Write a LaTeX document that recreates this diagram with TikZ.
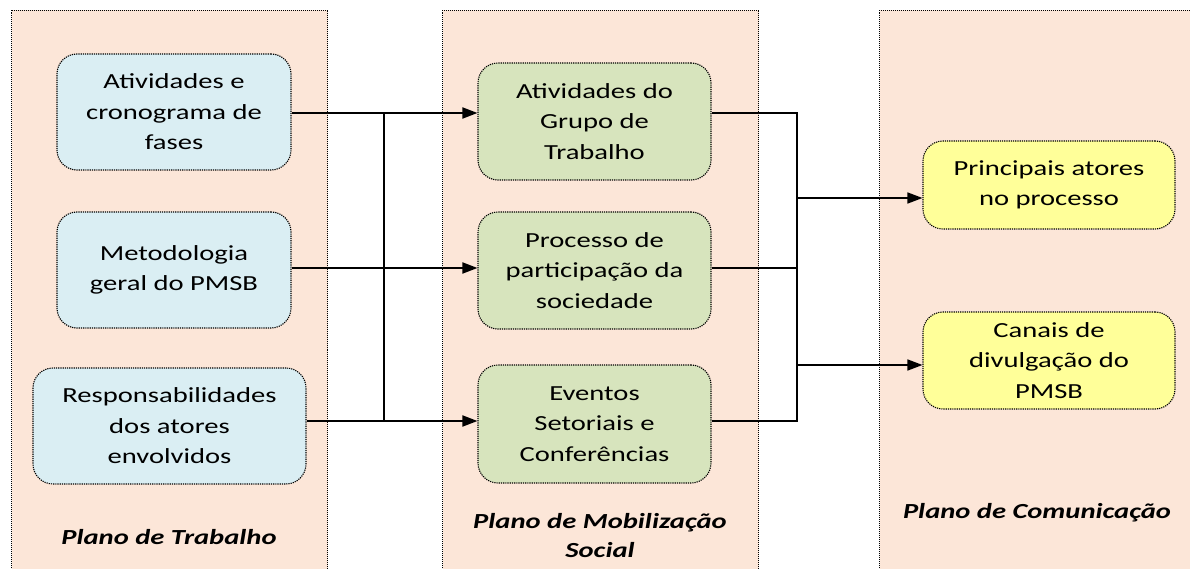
\documentclass[tikz,border=0pt]{standalone}
\usepackage{fontspec}
\setmainfont{Carlito}[FakeStretch=1.33]
\usetikzlibrary{arrows.meta,calc}
\definecolor{panelfill}{HTML}{FCE6D8}
\definecolor{bluefill}{HTML}{DAEEF3}
\definecolor{greenfill}{HTML}{D7E4BD}
\definecolor{yellowfill}{HTML}{FFFF99}
\tikzset{
  panel/.style={draw=black, fill=panelfill, line width=1pt, dash pattern=on 1pt off 1pt, inner sep=0pt},
  box/.style={draw=black, line width=1.1pt, dash pattern=on 1.2pt off 1pt, rounded corners=20pt,
    align=center, inner sep=0pt, font=\fontsize{21.5}{30.5}\selectfont},
  bluebox/.style={box, fill=bluefill},
  greenbox/.style={box, fill=greenfill},
  yellowbox/.style={box, fill=yellowfill},
  title/.style={align=center, font=\fontsize{21.5}{29}\selectfont\bfseries\itshape},
  conn/.style={line width=1.8pt},
  arr/.style={line width=1.8pt, -{Triangle[length=15pt,width=11pt]}},
}
\begin{document}
\begin{tikzpicture}[x=1pt,y=-1pt]
\useasboundingbox (0,0) rectangle (1190,569);
% panels
\node[panel, minimum width=316pt, minimum height=570pt, anchor=north west] (p1) at (11,10) {};
\node[panel, minimum width=316pt, minimum height=570pt, anchor=north west] (p2) at (442,10) {};
\node[panel, minimum width=316pt, minimum height=570pt, anchor=north west] (p3) at (879,10) {};
% titles
\node[title] (t1) at (169,537) {Plano de Trabalho};
\node[title] (t2) at (600,536) {Plano de Mobilização\\Social};
\node[title] (t3) at (1037,513) {Plano de Comunicação};
% blue boxes
\node[bluebox, minimum width=234pt, minimum height=116pt] (b1) at (174,112) {Atividades e\\cronograma de\\fases};
\node[bluebox, minimum width=234pt, minimum height=116pt] (b2) at (174,270) {Metodologia\\geral do PMSB};
\node[bluebox, minimum width=273pt, minimum height=116pt] (b3) at (169.5,426) {Responsabilidades\\dos atores\\envolvidos};
% green boxes
\node[greenbox, minimum width=233pt, minimum height=117pt] (g1) at (594.5,121.5) {Atividades do\\Grupo de\\Trabalho};
\node[greenbox, minimum width=233pt, minimum height=117pt] (g2) at (594.5,270.5) {Processo de\\participação da\\sociedade};
\node[greenbox, minimum width=233pt, minimum height=118pt] (g3) at (594.5,424) {Eventos\\Setoriais e\\Conferências};
% yellow boxes
\node[yellowbox, minimum width=252pt, minimum height=88pt] (y1) at (1049,185) {Principais atores\\no processo};
\node[yellowbox, minimum width=252pt, minimum height=97pt] (y2) at (1049,360.5) {Canais de\\divulgação do\\PMSB};
% left bus
\coordinate (l1) at (384,113);
\coordinate (l2) at (384,268);
\coordinate (l3) at (384,421);
\draw[arr] (b1.east |- l1) -- (l1 -| g1.west);
\draw[arr] (b2.east |- l2) -- (l2 -| g2.west);
\draw[arr] (b3.east |- l3) -- (l3 -| g3.west);
\draw[conn] (l1) -- (l3);
% right bus
\coordinate (r1) at (797,113);
\coordinate (r2) at (797,268);
\coordinate (r3) at (797,421);
\coordinate (ra) at (797,198);
\coordinate (rb) at (797,365);
\draw[conn, line width=1.5pt] (g1.east |- r1) -- (r1) -- (r3) -- (g3.east |- r3);
\draw[conn, line width=1.5pt] (g2.east |- r2) -- (r2);
\draw[arr, line width=1.5pt] (ra) -- (ra -| y1.west);
\draw[arr, line width=1.5pt] (rb) -- (rb -| y2.west);
\end{tikzpicture}
\end{document}
